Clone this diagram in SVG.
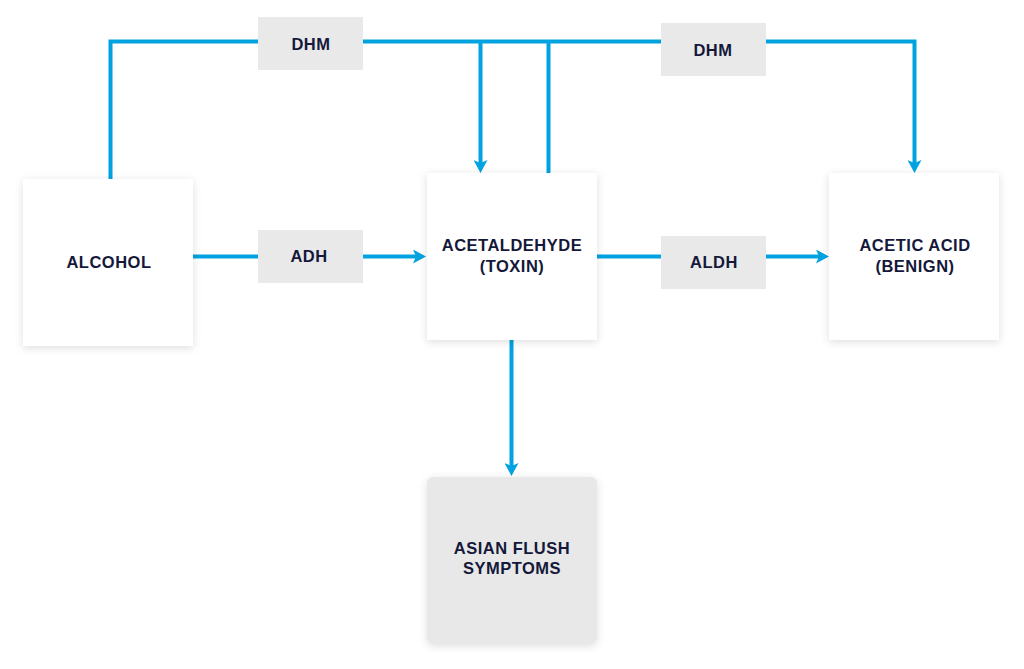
<svg xmlns="http://www.w3.org/2000/svg" width="1024" height="669" viewBox="0 0 1024 669">
  <style>
    .box { fill: #ffffff; filter: url(#sh); }
    .gbox { fill: #e8e8e8; filter: url(#sh); }
    .lbl { fill: #e9e9e9; }
    .t { font-family: "Liberation Sans", Arial, sans-serif; font-weight: bold; font-size: 16.5px; fill: #15183a; text-anchor: middle; letter-spacing: 0.5px; }
    .c { fill: none; stroke: #00a3e0; stroke-width: 4; }
  </style>
  <defs>
    <filter id="sh" x="-20%" y="-20%" width="140%" height="140%">
      <feDropShadow dx="0" dy="2" stdDeviation="4" flood-color="#000" flood-opacity="0.13"/>
    </filter>
    <marker id="ah" markerUnits="userSpaceOnUse" markerWidth="14" markerHeight="14" viewBox="0 0 14 14" refX="3" refY="7" orient="auto">
      <path d="M0,0 L13,7 L0,14 L3,7 z" fill="#00a3e0"/>
    </marker>
  </defs>
  <rect width="1024" height="669" fill="#ffffff"/>

  <g id="connectors">
    <path class="c" d="M110.5,179 V41.5 H258"/>
    <path class="c" d="M363,41.5 H661"/>
    <path class="c" d="M766,41.5 H914.5 V163" marker-end="url(#ah)"/>
    <path class="c" d="M480.5,41.5 V163" marker-end="url(#ah)"/>
    <path class="c" d="M548.5,41.5 V173"/>
    <path class="c" d="M193,256.5 H258"/>
    <path class="c" d="M363,256.5 H416" marker-end="url(#ah)"/>
    <path class="c" d="M597,256.5 H661"/>
    <path class="c" d="M766,256.5 H819" marker-end="url(#ah)"/>
    <path class="c" d="M511.5,340 V466" marker-end="url(#ah)"/>
  </g>

  <g id="alcohol">
    <rect class="box" x="23" y="179" width="170" height="167"/>
    <text class="t" x="109" y="268">ALCOHOL</text>
  </g>
  <g id="acetaldehyde">
    <rect class="box" x="427" y="173" width="170" height="167"/>
    <text class="t" x="512" y="251">ACETALDEHYDE</text>
    <text class="t" x="512" y="272">(TOXIN)</text>
  </g>
  <g id="acetic-acid">
    <rect class="box" x="829" y="173" width="170" height="167"/>
    <text class="t" x="915" y="251">ACETIC ACID</text>
    <text class="t" x="915" y="272">(BENIGN)</text>
  </g>
  <g id="asian-flush">
    <rect class="gbox" x="427" y="477" width="170" height="167" rx="6"/>
    <text class="t" x="512" y="554">ASIAN FLUSH</text>
    <text class="t" x="512" y="574">SYMPTOMS</text>
  </g>
  <g id="dhm-1">
    <rect class="lbl" x="258" y="17" width="105" height="53"/>
    <text class="t" x="311" y="50">DHM</text>
  </g>
  <g id="dhm-2">
    <rect class="lbl" x="661" y="23" width="105" height="53"/>
    <text class="t" x="713" y="56">DHM</text>
  </g>
  <g id="adh">
    <rect class="lbl" x="258" y="230" width="105" height="53"/>
    <text class="t" x="309" y="262">ADH</text>
  </g>
  <g id="aldh">
    <rect class="lbl" x="661" y="236" width="105" height="53"/>
    <text class="t" x="714" y="268">ALDH</text>
  </g>
</svg>
